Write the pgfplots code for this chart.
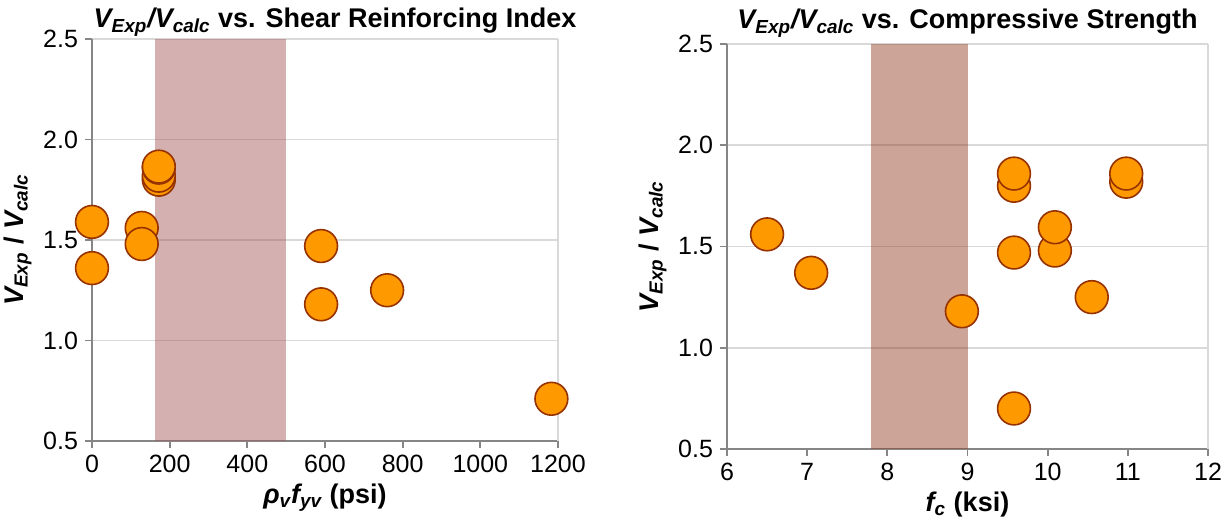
\documentclass[border=0pt]{standalone}
\usepackage{fontspec}
\setmainfont{Liberation Sans}
\usepackage{pgfplots}
\pgfplotsset{compat=1.18}
\definecolor{mkfill}{RGB}{255,153,0}
\definecolor{mkdraw}{RGB}{150,50,0}
\definecolor{bandL}{RGB}{159,79,79}
\definecolor{bandR}{RGB}{142,55,26}
\definecolor{axgray}{RGB}{134,134,134}
\definecolor{gridgray}{RGB}{217,217,217}
\pgfplotsset{
  myaxis/.style={
    scale only axis,
    axis x line=bottom, axis y line=left,
    axis line style={-, axgray, line width=0.9pt},
    tick align=outside,
    major tick length=3.5pt,
    tick style={axgray, line width=0.9pt},
    ymin=0.5, ymax=2.5,
    ytick={0.5,1.0,1.5,2.0,2.5},
    ymajorgrids,
    major grid style={gridgray, line width=0.9pt},
    yticklabel style={/pgf/number format/fixed, /pgf/number format/precision=1, /pgf/number format/fixed zerofill},
    /pgf/number format/1000 sep={},
    /pgf/number format/assume math mode=true,
    tick label style={font=\fontsize{12.5}{14}\selectfont},
    label style={font=\fontsize{13.5}{15}\selectfont\bfseries},
    title style={font=\fontsize{13.5}{16}\selectfont\bfseries},
    clip=false,
  },
  pts/.style={only marks, mark=*, mark size=8.2pt, mark options={fill=mkfill, draw=mkdraw, line width=0.8pt}},
}
\begin{document}
\begin{tikzpicture}
\useasboundingbox (0,0) rectangle (611.5pt,261.5pt);
\begin{axis}[myaxis,
  at={(46pt,41pt)}, anchor=south west,
  width=233pt, height=201pt,
  xmin=0, xmax=1200, xtick={0,200,400,600,800,1000,1200},
  title={\itshape V\textsubscript{Exp}/V\textsubscript{calc}\upshape\ vs. Shear Reinforcing Index},
  title style={yshift=-8pt, xshift=5pt},
  xlabel={\itshape ρ\textsubscript{v}f\textsubscript{yv}\upshape\ (psi)},
  ylabel={\itshape V\textsubscript{Exp}\upshape\ / \itshape V\textsubscript{calc}},
  ylabel style={yshift=-1pt},
  xlabel style={yshift=1.5pt},
]
\addplot[fill=bandL, fill opacity=0.45, draw=none, forget plot] coordinates {(162,0.5) (162,2.5) (500,2.5) (500,0.5)} -- cycle;
\addplot[gridgray, line width=0.9pt, forget plot] coordinates {(1200,0.5) (1200,2.5)};
\addplot[pts] coordinates {
(0,1.59) (0,1.36) (128,1.56) (128,1.48)
(172,1.80) (172,1.82) (172,1.86) (172,1.865)
(590,1.47) (590,1.18) (760,1.25) (1183,0.71)
};
\end{axis}
\begin{axis}[myaxis,
  at={(363.5pt,37pt)}, anchor=south west,
  width=240.5pt, height=202.5pt,
  xmin=6, xmax=12, xtick={6,7,8,9,10,11,12},
  title={\itshape V\textsubscript{Exp}/V\textsubscript{calc}\upshape\ vs. Compressive Strength},
  title style={yshift=-6pt},
  xlabel={\itshape f\textsubscript{c}\upshape\ (ksi)},
  ylabel={\itshape V\textsubscript{Exp}\upshape\ / \itshape V\textsubscript{calc}},
  ylabel style={yshift=-1pt},
  xlabel style={yshift=1.5pt},
]
\addplot[fill=bandR, fill opacity=0.45, draw=none, forget plot] coordinates {(7.8,0.5) (7.8,2.5) (9.0,2.5) (9.0,0.5)} -- cycle;
\addplot[gridgray, line width=0.9pt, forget plot] coordinates {(12,0.5) (12,2.5)};
\addplot[pts] coordinates {
(6.5,1.56) (7.05,1.37) (8.93,1.18)
(9.58,0.70) (9.58,1.47) (9.58,1.80) (9.58,1.86)
(10.09,1.48) (10.09,1.595) (10.55,1.25)
(10.98,1.82) (10.98,1.86)
};
\end{axis}
\end{tikzpicture}
\end{document}
